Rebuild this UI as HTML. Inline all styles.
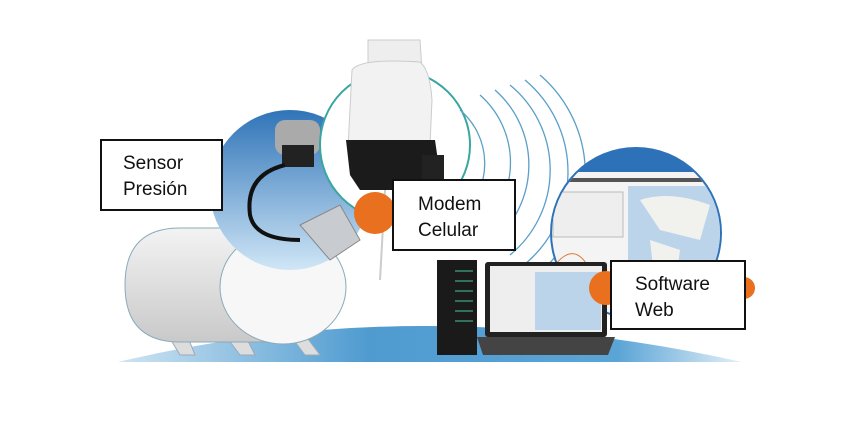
<!DOCTYPE html>
<html><head><meta charset="utf-8"><style>
html,body{margin:0;padding:0;background:#fff;width:853px;height:433px;overflow:hidden}
svg{display:block}
text{font-family:"Liberation Sans",sans-serif;font-size:19px;fill:#111}
</style></head><body>
<svg width="853" height="433" viewBox="0 0 853 433" xmlns="http://www.w3.org/2000/svg">
<defs>
<linearGradient id="gr" x1="0" y1="0" x2="1" y2="0">
<stop offset="0" stop-color="#cfe5f3"/><stop offset="0.4" stop-color="#4f9bd0"/><stop offset="0.8" stop-color="#5ba4d6"/><stop offset="1" stop-color="#e3f0f8"/></linearGradient>
<linearGradient id="sky" x1="0" y1="0" x2="0" y2="1">
<stop offset="0" stop-color="#2f74b8"/><stop offset="1" stop-color="#cfe6f6"/></linearGradient>
<linearGradient id="tank" x1="0" y1="0" x2="0" y2="1">
<stop offset="0" stop-color="#f3f3f3"/><stop offset="1" stop-color="#c9c9c9"/></linearGradient>
<clipPath id="sw"><circle cx="636" cy="233" r="84"/></clipPath>
</defs>
<path d="M118 362 Q420 290 742 362 Z" fill="url(#gr)"/>
<path d="M165 330 L180 355 L195 355 L185 330Z M225 335 L240 355 L255 355 L245 335Z M290 335 L305 355 L320 355 L305 335Z" fill="#ddd" stroke="#9ab" stroke-width="1"/>
<rect x="180" y="232" width="8" height="12" fill="#ddd" stroke="#9ab"/>
<path d="M180 228 L290 228 L290 342 L180 342 Q125 342 125 285 Q125 228 180 228Z" fill="url(#tank)" stroke="#8aaabb" stroke-width="1"/>
<ellipse cx="283" cy="287" rx="63" ry="57" fill="#f7f7f7" stroke="#8aaabb" stroke-width="1"/>
<circle cx="290" cy="190" r="80" fill="url(#sky)"/>
<rect x="275" y="120" width="45" height="35" rx="10" fill="#aaa"/>
<rect x="282" y="145" width="32" height="22" fill="#222"/>
<path d="M285 165 Q245 175 250 215 Q255 240 300 240" stroke="#111" stroke-width="4" fill="none"/>
<path d="M300 225 L340 205 L360 240 L330 260 Z" fill="#c8ccd0" stroke="#888"/>
<circle cx="395" cy="145" r="75" fill="#fff" stroke="#3aa6a0" stroke-width="2"/>
<g fill="none" stroke="#5a9fc8" stroke-width="1.3">
<path d="M480 95 A90 90 0 0 1 480 230"/>
<path d="M495 90 A100 100 0 0 1 495 240"/>
<path d="M510 85 A110 110 0 0 1 510 255"/>
<path d="M525 80 A120 120 0 0 1 520 268"/>
<path d="M540 75 A130 130 0 0 1 530 280"/>
<path d="M460 110 A70 70 0 0 1 462 215"/>
</g>
<path d="M368 40 L420 40 L422 70 L368 70Z" fill="#eee" stroke="#ccc"/>
<path d="M352 70 Q360 58 420 62 Q430 70 432 100 L430 145 L348 148 Z" fill="#f2f2f2" stroke="#ccc"/>
<path d="M346 140 L435 140 L440 175 L420 190 L360 190 L350 175Z" fill="#1b1b1b"/>
<rect x="422" y="155" width="22" height="30" fill="#222"/>
<line x1="385" y1="190" x2="380" y2="280" stroke="#ccc" stroke-width="2"/>
<circle cx="375" cy="213" r="21" fill="#e8701e"/>
<circle cx="636" cy="233" r="86" fill="#2d72b8"/>
<g clip-path="url(#sw)">
<rect x="545" y="172" width="185" height="160" fill="#f4f4f4"/>
<rect x="545" y="178" width="185" height="4" fill="#555"/>
<rect x="628" y="186" width="100" height="140" fill="#bcd4ea"/>
<path d="M640 200 Q670 190 710 205 L700 240 L660 230Z M650 240 L680 250 L675 290 L655 285Z" fill="#f1f1ee"/>
<rect x="553" y="192" width="70" height="45" fill="#eee" stroke="#bbb"/>
<path d="M555 265 Q575 240 590 270 T620 260" stroke="#e07a3a" fill="none"/>
</g>
<rect x="437" y="260" width="40" height="95" fill="#1a1a1a"/>
<g fill="#4a8" opacity="0.6"><rect x="455" y="270" width="18" height="2"/><rect x="455" y="280" width="18" height="2"/><rect x="455" y="290" width="18" height="2"/><rect x="455" y="300" width="18" height="2"/><rect x="455" y="310" width="18" height="2"/><rect x="455" y="320" width="18" height="2"/></g>
<rect x="485" y="262" width="122" height="75" rx="3" fill="#222"/>
<rect x="490" y="266" width="112" height="66" fill="#eee"/>
<rect x="535" y="272" width="66" height="58" fill="#bcd4ea"/>
<path d="M477 337 L615 337 L608 355 L483 355Z" fill="#444"/>
<circle cx="606" cy="288" r="17" fill="#e8701e"/>
<circle cx="744" cy="288" r="11" fill="#e8701e"/>
<rect x="101" y="140" width="121" height="70" fill="#fff" stroke="#111" stroke-width="2"/>
<text x="123" y="169">Sensor</text><text x="123" y="195">Presión</text>
<rect x="393" y="180" width="122" height="70" fill="#fff" stroke="#111" stroke-width="2"/>
<text x="418" y="210">Modem</text><text x="418" y="236">Celular</text>
<rect x="611" y="261" width="134" height="68" fill="#fff" stroke="#111" stroke-width="2"/>
<text x="635" y="290">Software</text><text x="635" y="316">Web</text>
</svg>
</body></html>
